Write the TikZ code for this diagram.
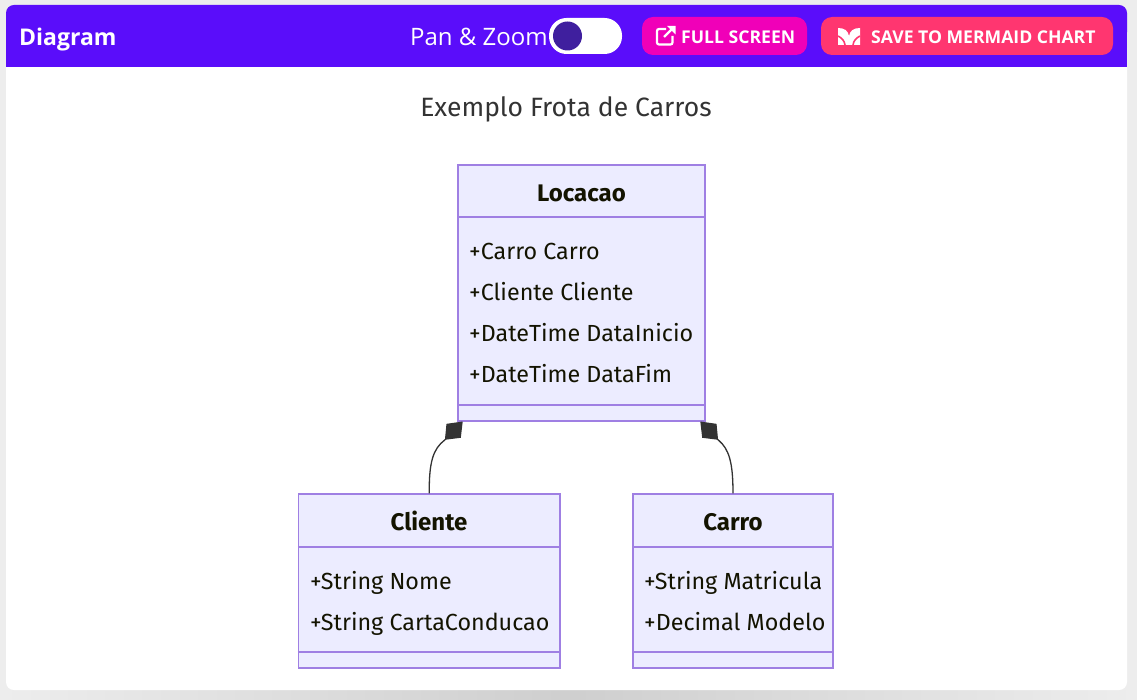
\documentclass[tikz,border=0pt]{standalone}
\usepackage{fontspec}
\setmainfont{Fira Sans}
\newfontfamily\headfont{Open Sans}
\usetikzlibrary{positioning,arrows.meta}
\definecolor{headviolet}{HTML}{5A0DFA}
\definecolor{knobviolet}{HTML}{3F1F9E}
\definecolor{fullpink}{HTML}{F000B8}
\definecolor{savered}{HTML}{FF3670}
\definecolor{classfill}{HTML}{ECECFF}
\definecolor{classline}{HTML}{9F7FE3}
\definecolor{inktext}{HTML}{131300}
\definecolor{inkline}{HTML}{333333}
\tikzset{
  classbox/.style = {draw = classline, fill = classfill, line width = 1.2pt, shape = rectangle, inner sep = 0pt},
  classsep/.style = {draw = classline, line width = 1.2pt},
  classname/.style = {font = \fontsize{24}{28}\selectfont\bfseries, text = inktext, anchor = base, inner sep = 0pt},
  member/.style = {font = \fontsize{23.3}{27}\selectfont, text = inktext, anchor = base west, inner sep = 0pt},
  compose/.style = {draw = inkline, line width = 1.3pt, -{Kite[length = 25.5pt, width = 20pt, inset = 12.5pt, fill = inkline]}},
  headtext/.style = {font = \headfont\fontsize{24}{28}\selectfont, text = white, inner sep = 0pt, anchor = base west},
  btntext/.style = {font = \headfont\fontsize{17.6}{22}\selectfont\bfseries, text = white, inner sep = 0pt, anchor = base west},
  btn/.style = {shape = rectangle, rounded corners = 11pt, inner sep = 0pt, minimum height = 38pt}
}
\begin{document}
\begin{tikzpicture}[x = 1pt, y = -1pt]
\useasboundingbox (0,0) rectangle (1137,700);
% page and shadow
\fill[black!7] (0,0) rectangle (1137,700);
\shade[left color = black!7, right color = black!19] (0,690) rectangle (568,700);
\shade[left color = black!19, right color = black!7] (568,690) rectangle (1137,700);
\fill[white, rounded corners = 8pt] (6,40) rectangle (1127,690);
\fill[headviolet, rounded corners = 8pt] (6,5) rectangle (1127,40);
\fill[headviolet] (6,30) rectangle (1127,67);
% header
\node[headtext, font = \headfont\fontsize{23}{28}\selectfont\bfseries] (diagramLabel) at (19,45.5) {Diagram};
\node[headtext] (panLabel) at (410,45.5) {Pan \& Zoom};
\node[fill = white, shape = rectangle, rounded corners = 17.5pt, minimum width = 73pt, minimum height = 36pt, inner sep = 0pt] (toggle) at (585.5,36) {};
\node[fill = knobviolet, shape = circle, minimum size = 29pt, inner sep = 0pt] (knob) at (567.5,36) {};
\node[btn, fill = fullpink, minimum width = 165pt] (fullBtn) at (724.5,36) {};
\node[btntext] (fullLabel) at (681,43.2) {FULL SCREEN};
\draw[white, line width = 2.2pt, rounded corners = 2pt] (666,29) -- (657,29) -- (657,44.5) -- (672.5,44.5) -- (672.5,36);
\draw[white, line width = 2.4pt] (664,37) -- (673,28);
\fill[white] (667,26) -- (675.5,26) -- (675.5,34.5) -- cycle;
\node[btn, fill = savered, minimum width = 292pt] (saveBtn) at (967,36) {};
\node[btntext] (saveLabel) at (871,43.2) {SAVE TO MERMAID CHART};
\fill[white] (838,28) .. controls (845,28) and (848,31) .. (849,36) .. controls (850,31) and (853,28) .. (860,28)
  -- (860,45) -- (838,45) -- cycle;
\draw[savered, line width = 1.6pt] (838,36) .. controls (842,38) and (844.5,41) .. (845,45);
\draw[savered, line width = 1.6pt] (860,36) .. controls (856,38) and (853.5,41) .. (853,45);
% title
\node[font = \fontsize{26.5}{30}\selectfont, text = inkline, inner sep = 0pt, anchor = base] (diagramTitle) at (566,116.5) {Exemplo Frota de Carros};
% classes
\node[classbox, minimum width = 247pt, minimum height = 256pt] (locacao) at (581.5,293) {};
\node[classbox, minimum width = 261.5pt, minimum height = 174pt] (cliente) at (429.25,581) {};
\node[classbox, minimum width = 200pt, minimum height = 174pt] (carro) at (733,581) {};
\node[classname] (locacaoName) at (581.5,201.7) {Locacao};
\node[classname] (clienteName) at (429,530.7) {Cliente};
\node[classname] (carroName) at (733,530.7) {Carro};
\draw[classsep] (locacao.west |- 0,217) -- (locacao.east |- 0,217);
\draw[classsep] (locacao.west |- 0,405) -- (locacao.east |- 0,405);
\draw[classsep] (cliente.west |- 0,547) -- (cliente.east |- 0,547);
\draw[classsep] (cliente.west |- 0,652) -- (cliente.east |- 0,652);
\draw[classsep] (carro.west |- 0,547) -- (carro.east |- 0,547);
\draw[classsep] (carro.west |- 0,652) -- (carro.east |- 0,652);
\node[member] (loc1) at (469,259.7) {+Carro Carro};
\node[member] (loc2) at (469,300.7) {+Cliente Cliente};
\node[member] (loc3) at (469,341.7) {+DateTime DataInicio};
\node[member] (loc4) at (469,382.7) {+DateTime DataFim};
\node[member] (cli1) at (310,589.5) {+String Nome};
\node[member] (cli2) at (310,630.5) {+String CartaConducao};
\node[member] (car1) at (644,589.5) {+String Matricula};
\node[member] (car2) at (644,630.5) {+Decimal Modelo};
% composition links
\coordinate (tipCliente) at (462.7,421.5);
\coordinate (tipCarro) at (700.3,421.5);
\draw[compose] (cliente.north) .. controls (429,462) and (433,449) .. (444.7,440) -- (tipCliente);
\draw[compose] (carro.north) .. controls (733,462) and (729,449) .. (718.3,440) -- (tipCarro);
\end{tikzpicture}
\end{document}
